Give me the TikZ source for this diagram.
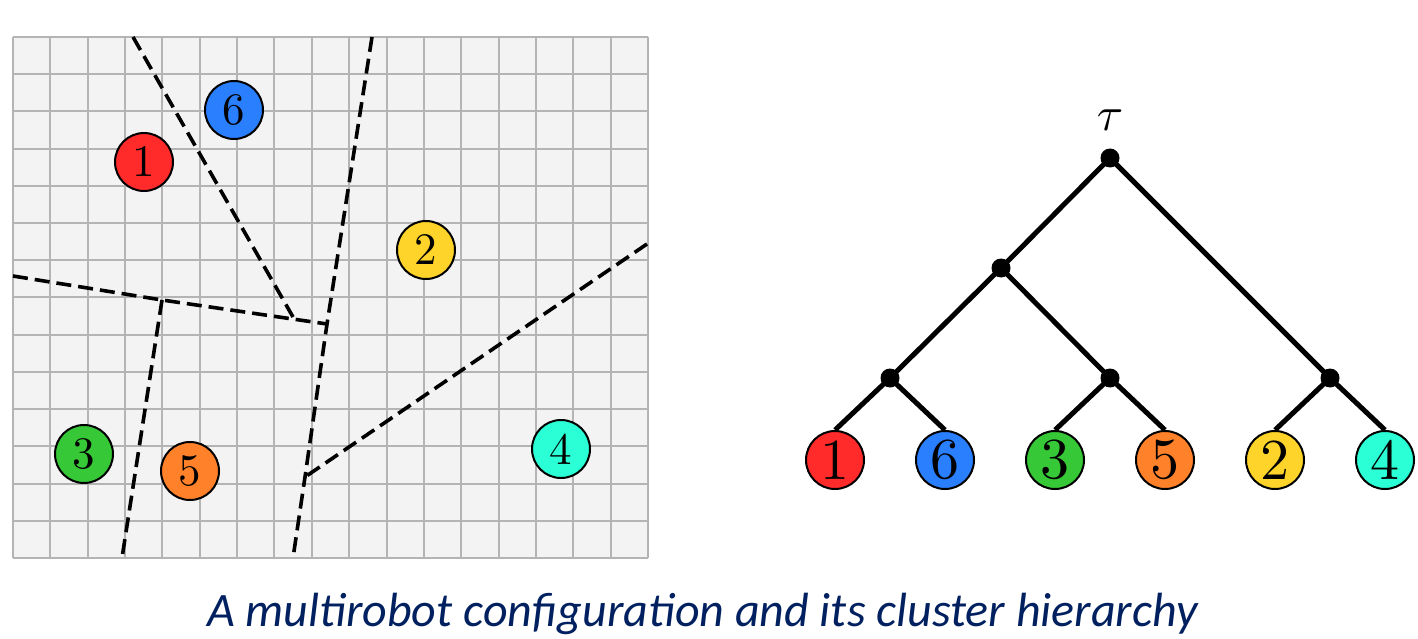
\documentclass[tikz,border=0pt]{standalone}
\usepackage{fontspec}
\newfontfamily\capfont{Carlito}
\definecolor{gridbg}{HTML}{F3F3F3}
\definecolor{gridln}{HTML}{B4B4B4}
\definecolor{rA}{HTML}{FF2A2A}
\definecolor{rB}{HTML}{2A7FFF}
\definecolor{rC}{HTML}{37C837}
\definecolor{rD}{HTML}{FF812A}
\definecolor{rE}{HTML}{FFD42A}
\definecolor{rF}{HTML}{2AFFD5}
\definecolor{capblue}{HTML}{002060}
\newcommand\gdig[1]{\scalebox{4.5}{#1}}
\newcommand\tdig[1]{\scalebox{5.8}{#1}}
\tikzset{
  robot/.style={circle, draw=black, line width=2pt, minimum size=58pt, inner sep=0pt, fill=#1},
  leaf/.style={robot=#1},
  cut/.style={line width=3.6pt, dash pattern=on 15pt off 7pt},
  tdot/.style={circle, fill=black, minimum size=19pt, inner sep=0pt},
  tedge/.style={line width=5pt},
  gline/.style={draw=gridln, line width=2pt}
}
\begin{document}
\begin{tikzpicture}[x=1pt,y=-1pt]
\useasboundingbox (0,0) rectangle (1418,639);
% grid
\fill[gridbg] (13,37) rectangle (648,558);
\foreach \i in {0,...,17} \draw[gline] ({13+\i*37.353},37) -- ++(0,521);
\foreach \j in {0,...,14} \draw[gline] (13,{37+\j*37.214}) -- ++(635,0);
% cuts
\coordinate (a1) at (133,37);
\coordinate (a2) at (293,317);
\coordinate (b1) at (13,276);
\coordinate (bj) at (162,300);
\coordinate (b2) at (327,324);
\coordinate (c2) at (122,558);
\coordinate (d1) at (372,37);
\coordinate (dj) at (305,477);
\coordinate (d2) at (293,558);
\coordinate (e1) at (647,244);
\draw[cut] (a1) -- (a2);
\draw[cut] (b1) -- (bj) -- (b2);
\draw[cut] (bj) -- (c2);
\draw[cut] (d1) -- (b2) -- (dj) -- (d2);
\draw[cut] (e1) -- (dj);
% robots
\node[robot=rA] (g1) at (144,162) {\gdig{1}};
\node[robot=rB] (g6) at (234,110) {\gdig{6}};
\node[robot=rE] (g2) at (426,250) {\gdig{2}};
\node[robot=rC] (g3) at (84,454) {\gdig{3}};
\node[robot=rD] (g5) at (190,471) {\gdig{5}};
\node[robot=rF] (g4) at (561,449) {\gdig{4}};
% tree
\node[tdot] (root) at (1110,158) {};
\node[scale=4.8] (tau) at (1110,120) {$\tau$};
\node[tdot] (m) at (1001,268) {};
\node[tdot] (p) at (890,378) {};
\node[tdot] (q) at (1110,378) {};
\node[tdot] (r) at (1330,378) {};
\node[leaf=rA] (l1) at (835,460) {\tdig{1}};
\node[leaf=rB] (l6) at (945,460) {\tdig{6}};
\node[leaf=rC] (l3) at (1055,460) {\tdig{3}};
\node[leaf=rD] (l5) at (1165,460) {\tdig{5}};
\node[leaf=rE] (l2) at (1275,460) {\tdig{2}};
\node[leaf=rF] (l4) at (1385,460) {\tdig{4}};
\draw[tedge] (root.center) -- (m.center);
\draw[tedge] (root.center) -- (r.center);
\draw[tedge] (m.center) -- (p.center);
\draw[tedge] (m.center) -- (q.center);
\draw[tedge] (p.center) -- (l1.north);
\draw[tedge] (p.center) -- (l6.north);
\draw[tedge] (q.center) -- (l3.north);
\draw[tedge] (q.center) -- (l5.north);
\draw[tedge] (r.center) -- (l2.north);
\draw[tedge] (r.center) -- (l4.north);
% caption
\node[anchor=base, text=capblue, font=\capfont\itshape\fontsize{48}{48}\selectfont] (cap) at (702.5,626) {A multirobot configuration and its cluster hierarchy};
\end{tikzpicture}
\end{document}
